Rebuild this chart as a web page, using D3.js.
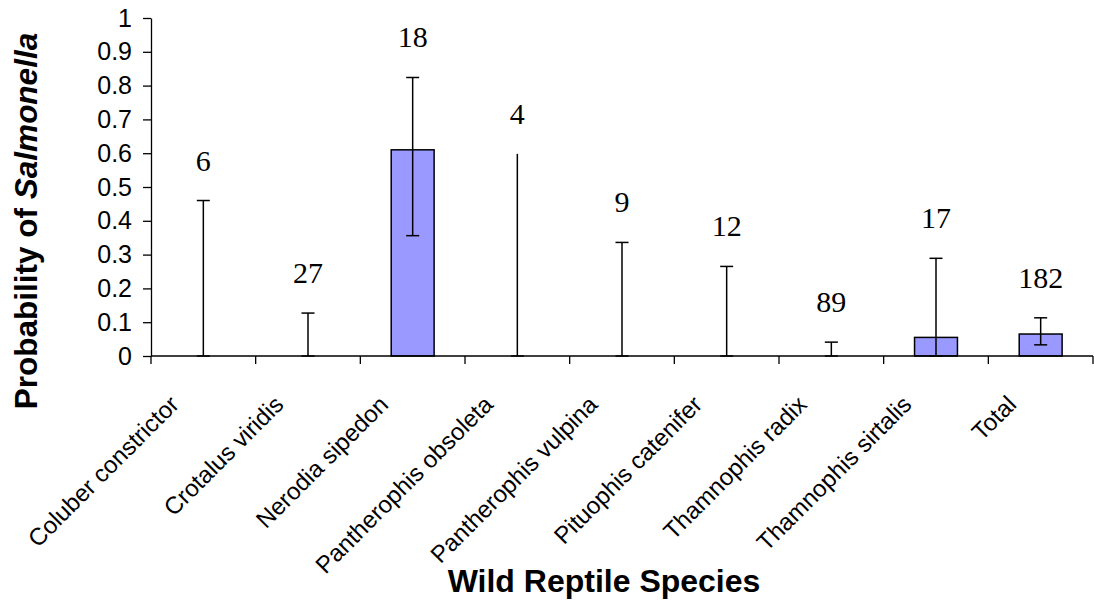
<!DOCTYPE html>
<html>
<head>
<meta charset="utf-8">
<script src="https://cdn.jsdelivr.net/npm/d3@7"></script>
<style>
  html, body { margin: 0; padding: 0; background: #fff; }
  svg { display: block; }
</style>
</head>
<body>
<svg id="chart" width="1094" height="600"></svg>
<script>
// Species sampled and estimated probability of Salmonella with 95% CI
const species = [
  "Coluber constrictor", "Crotalus viridis", "Nerodia sipedon",
  "Pantherophis obsoleta", "Pantherophis vulpina", "Pituophis catenifer",
  "Thamnophis radix", "Thamnophis sirtalis", "Total"
];
const probability = [0, 0, 0.61, 0, 0, 0, 0, 0.055, 0.065];
const ciUpper = [0.46, 0.127, 0.824, 0.598, 0.336, 0.265, 0.041, 0.289, 0.113];
const ciLower = [0, 0, 0.356, 0, 0, 0, 0, 0, 0.033];
const sampleSize = [6, 27, 18, 4, 9, 12, 89, 17, 182];
const yTicks = [0, 0.1, 0.2, 0.3, 0.4, 0.5, 0.6, 0.7, 0.8, 0.9, 1];

const svg = d3.select("#chart");
const plotLeft = 151, plotRight = 1093, plotTop = 18, plotBottom = 356;

const x = d3.scaleBand().domain(species).range([plotLeft, plotRight]).paddingInner(0).paddingOuter(0);
const y = d3.scaleLinear().domain([0, 1]).range([plotBottom, plotTop]);

const sans = "'Liberation Sans', Arial, sans-serif";
const serif = "'Liberation Serif', 'Times New Roman', serif";

// Bars
const barW = x.bandwidth() * 0.41;
svg.append("g").selectAll("rect")
  .data(species.map((s, i) => ({ s, v: probability[i] })).filter(d => d.v > 0))
  .join("rect")
  .attr("x", d => x(d.s) + x.bandwidth() / 2 - barW / 2)
  .attr("y", d => y(d.v))
  .attr("width", barW)
  .attr("height", d => y(0) - y(d.v))
  .attr("fill", "#9999ff")
  .attr("stroke", "#000")
  .attr("stroke-width", 1.5);

// Error bars (the smallest sample has no upper cap drawn)
const capW = 13;
const noCap = new Set(["Pantherophis obsoleta"]);
const eb = svg.append("g").attr("stroke", "#000").attr("stroke-width", 1.5);
species.forEach((s, i) => {
  const cx = x(s) + x.bandwidth() / 2;
  eb.append("line").attr("x1", cx).attr("x2", cx)
    .attr("y1", y(ciLower[i])).attr("y2", y(ciUpper[i]));
  if (!noCap.has(s)) {
    eb.append("line").attr("x1", cx - capW / 2).attr("x2", cx + capW / 2)
      .attr("y1", y(ciUpper[i])).attr("y2", y(ciUpper[i]));
  }
  eb.append("line").attr("x1", cx - capW / 2).attr("x2", cx + capW / 2)
    .attr("y1", y(ciLower[i])).attr("y2", y(ciLower[i]));
});

// Sample size labels
svg.append("g").selectAll("text")
  .data(species.map((s, i) => ({ s, n: sampleSize[i], u: ciUpper[i] })))
  .join("text")
  .attr("x", d => x(d.s) + x.bandwidth() / 2)
  .attr("y", d => y(d.u) - 30)
  .attr("text-anchor", "middle")
  .attr("font-family", serif)
  .attr("font-size", 30)
  .attr("fill", "#000")
  .text(d => d.n);

// Y axis
const yAxis = svg.append("g")
  .attr("transform", `translate(${plotLeft},0)`)
  .call(d3.axisLeft(y).tickValues(yTicks).tickFormat(d3.format("")).tickSize(8).tickSizeOuter(0).tickPadding(11));
yAxis.attr("font-size", null).attr("font-family", null);
yAxis.select(".domain").attr("stroke", "#000").attr("stroke-width", 1.3);
yAxis.selectAll(".tick line").attr("stroke", "#000").attr("stroke-width", 1.3);
yAxis.selectAll("text").style("font-family", sans).style("font-size", "25px").attr("fill", "#000");

// X axis line and boundary ticks
const xg = svg.append("g");
xg.append("line").attr("x1", plotLeft).attr("x2", plotRight).attr("y1", plotBottom).attr("y2", plotBottom)
  .attr("stroke", "#000").attr("stroke-width", 1.3);
const bounds = species.map(s => x(s)).concat([plotRight]);
xg.selectAll("line.b").data(bounds).join("line").attr("class", "b")
  .attr("x1", d => d).attr("x2", d => d)
  .attr("y1", plotBottom).attr("y2", plotBottom + 8)
  .attr("stroke", "#000").attr("stroke-width", 1.3);

// Rotated category labels
xg.selectAll("text").data(species).join("text")
  .attr("transform", d => `translate(${x(d) + x.bandwidth() / 2 - 23},${plotBottom + 50}) rotate(-45)`)
  .attr("text-anchor", "end")
  .attr("font-family", sans)
  .attr("font-size", 24)
  .attr("fill", "#000")
  .text(d => d);

// Axis titles
svg.append("text")
  .attr("x", 604).attr("y", 592)
  .attr("text-anchor", "middle")
  .attr("font-family", sans).attr("font-weight", "bold").attr("font-size", 32)
  .text("Wild Reptile Species");

const yt = svg.append("text")
  .attr("transform", "translate(37,221) rotate(-90)")
  .attr("text-anchor", "middle")
  .attr("font-family", sans).attr("font-weight", "bold").attr("font-size", 31.5);
yt.append("tspan").text("Probability of ");
yt.append("tspan").attr("font-style", "italic").text("Salmonella");
</script>
</body>
</html>
